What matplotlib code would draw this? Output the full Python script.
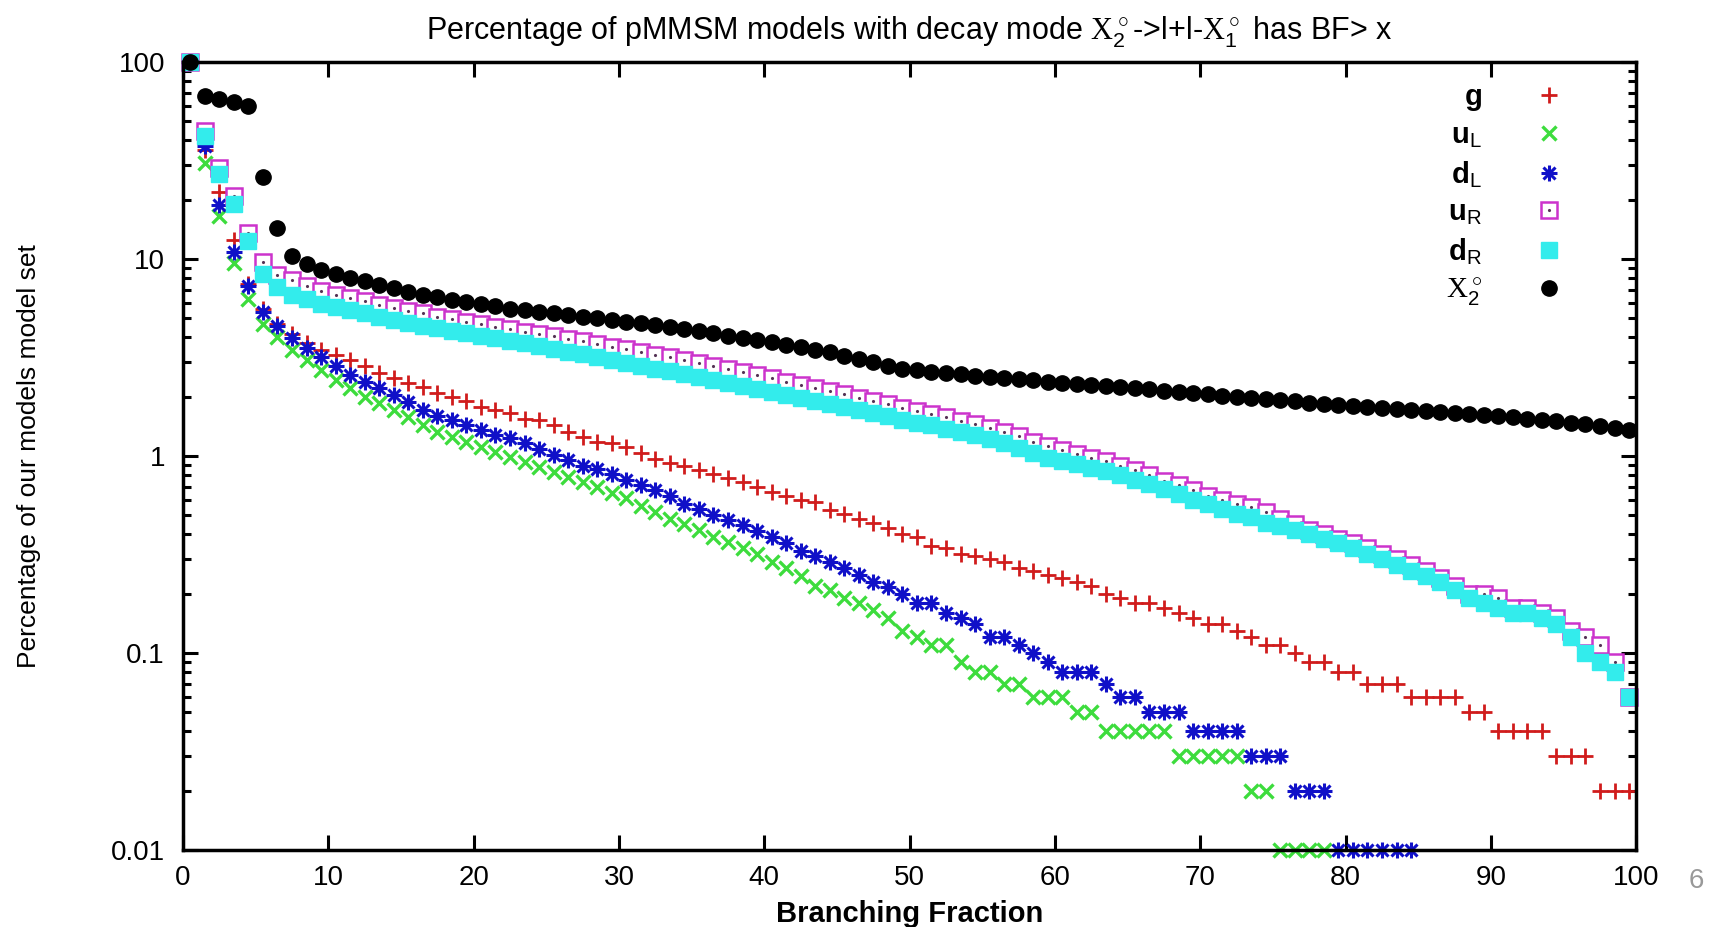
import numpy as np
import matplotlib
matplotlib.use("Agg")
import matplotlib.pyplot as plt
from matplotlib.legend_handler import HandlerTuple

plt.rcParams["font.family"] = ["Liberation Sans", "DejaVu Sans"]
plt.rcParams["mathtext.fontset"] = "custom"
plt.rcParams["mathtext.rm"] = "Liberation Sans"
plt.rcParams["mathtext.bf"] = "Liberation Sans:bold"
plt.rcParams["mathtext.sf"] = "Liberation Serif"

# bin centres of the branching fraction (percent)
bf = np.arange(0.5, 100, 1.0)

g = [100, 36, 22, 12.5, 7.5, 5.6, 4.7, 4.15, 3.74, 3.46,
     3.26, 3.07, 2.85, 2.63, 2.48, 2.34, 2.23, 2.08, 2.0, 1.91,
     1.78, 1.71, 1.65, 1.55, 1.52, 1.43, 1.33, 1.25, 1.18, 1.16,
     1.11, 1.04, 0.97, 0.925, 0.89, 0.85, 0.815, 0.77, 0.74, 0.70,
     0.66, 0.63, 0.60, 0.585, 0.53, 0.51, 0.48, 0.46, 0.43, 0.40,
     0.39, 0.35, 0.34, 0.32, 0.31, 0.30, 0.29, 0.27, 0.26, 0.25,
     0.24, 0.23, 0.22, 0.20, 0.19, 0.18, 0.18, 0.17, 0.16, 0.15,
     0.14, 0.14, 0.13, 0.12, 0.11, 0.11, 0.10, 0.09, 0.09, 0.08,
     0.08, 0.07, 0.07, 0.07, 0.06, 0.06, 0.06, 0.06, 0.05, 0.05,
     0.04, 0.04, 0.04, 0.04, 0.03, 0.03, 0.03, 0.02, 0.02, 0.02]

u_l = [100, 30.8, 16.5, 9.5, 6.3, 4.7, 4.04, 3.46, 3.07, 2.74,
       2.43, 2.21, 2.0, 1.85, 1.71, 1.58, 1.44, 1.33, 1.25, 1.18,
       1.11, 1.05, 0.99, 0.93, 0.88, 0.835, 0.78, 0.74, 0.70, 0.65,
       0.61, 0.56, 0.52, 0.48, 0.45, 0.42, 0.39, 0.365, 0.34, 0.32,
       0.29, 0.27, 0.245, 0.22, 0.21, 0.19, 0.18, 0.165, 0.15, 0.13,
       0.12, 0.11, 0.11, 0.09, 0.08, 0.08, 0.07, 0.07, 0.06, 0.06,
       0.06, 0.05, 0.05, 0.04, 0.04, 0.04, 0.04, 0.04, 0.03, 0.03,
       0.03, 0.03, 0.03, 0.02, 0.02, 0.01, 0.01, 0.01, 0.01]

d_l = [100, 37.4, 18.9, 10.9, 7.3, 5.4, 4.57, 3.96, 3.52, 3.17,
       2.87, 2.58, 2.38, 2.21, 2.04, 1.89, 1.71, 1.6, 1.52, 1.44,
       1.35, 1.28, 1.23, 1.16, 1.09, 1.01, 0.95, 0.89, 0.855, 0.815,
       0.76, 0.71, 0.675, 0.625, 0.57, 0.54, 0.50, 0.475, 0.445, 0.415,
       0.39, 0.36, 0.33, 0.31, 0.29, 0.27, 0.25, 0.23, 0.216, 0.20,
       0.18, 0.18, 0.16, 0.15, 0.14, 0.12, 0.12, 0.11, 0.10, 0.09,
       0.08, 0.08, 0.08, 0.07, 0.06, 0.06, 0.05, 0.05, 0.05, 0.04,
       0.04, 0.04, 0.04, 0.03, 0.03, 0.03, 0.02, 0.02, 0.02, 0.01,
       0.01, 0.01, 0.01, 0.01, 0.01]

u_r = [100, 44.6, 29, 20.8, 13.5, 9.7, 8.3, 7.8, 7.3, 6.9,
       6.6, 6.35, 6.1, 5.86, 5.65, 5.45, 5.3, 5.1, 4.97, 4.82,
       4.68, 4.54, 4.42, 4.28, 4.17, 4.05, 3.93, 3.82, 3.7, 3.58,
       3.48, 3.38, 3.27, 3.17, 3.07, 2.97, 2.87, 2.76, 2.66, 2.57,
       2.48, 2.39, 2.3, 2.22, 2.14, 2.06, 1.98, 1.9, 1.83, 1.76,
       1.69, 1.63, 1.57, 1.51, 1.45, 1.39, 1.33, 1.27, 1.18, 1.12,
       1.07, 1.03, 0.98, 0.94, 0.89, 0.85, 0.8, 0.75, 0.71, 0.67,
       0.63, 0.6, 0.57, 0.55, 0.52, 0.48, 0.45, 0.42, 0.4, 0.38,
       0.36, 0.34, 0.32, 0.3, 0.28, 0.26, 0.24, 0.22, 0.2, 0.2,
       0.19, 0.17, 0.17, 0.16, 0.15, 0.13, 0.12, 0.11, 0.09, 0.06]

d_r = [100, 42, 27, 19.1, 12.3, 8.4, 7.2, 6.6, 6.25, 5.95,
       5.7, 5.5, 5.3, 5.1, 4.92, 4.75, 4.6, 4.45, 4.32, 4.2,
       4.08, 3.96, 3.85, 3.73, 3.62, 3.5, 3.39, 3.28, 3.17, 3.06,
       2.96, 2.87, 2.78, 2.69, 2.6, 2.52, 2.43, 2.35, 2.27, 2.19,
       2.12, 2.04, 1.97, 1.9, 1.84, 1.77, 1.71, 1.65, 1.59, 1.53,
       1.48, 1.43, 1.38, 1.33, 1.28, 1.22, 1.16, 1.1, 1.04, 0.98,
       0.94, 0.91, 0.87, 0.84, 0.8, 0.76, 0.72, 0.68, 0.64, 0.6,
       0.57, 0.54, 0.51, 0.49, 0.46, 0.44, 0.42, 0.4, 0.38, 0.36,
       0.34, 0.32, 0.3, 0.28, 0.26, 0.245, 0.23, 0.21, 0.19, 0.18,
       0.17, 0.16, 0.16, 0.15, 0.14, 0.12, 0.10, 0.09, 0.08, 0.06]

x2 = [100, 67, 65, 63, 60, 26, 14.3, 10.4, 9.4, 8.8,
      8.4, 8.0, 7.7, 7.4, 7.1, 6.8, 6.6, 6.4, 6.2, 6.05,
      5.9, 5.75, 5.6, 5.5, 5.4, 5.3, 5.2, 5.1, 5.0, 4.9,
      4.8, 4.72, 4.62, 4.52, 4.42, 4.3, 4.2, 4.08, 3.98, 3.88,
      3.78, 3.68, 3.58, 3.47, 3.36, 3.24, 3.12, 3.0, 2.88, 2.78,
      2.72, 2.68, 2.64, 2.6, 2.56, 2.52, 2.48, 2.45, 2.42, 2.39,
      2.36, 2.33, 2.30, 2.27, 2.24, 2.21, 2.18, 2.15, 2.12, 2.09,
      2.06, 2.03, 2.0, 1.98, 1.95, 1.92, 1.9, 1.87, 1.84, 1.82,
      1.8, 1.78, 1.76, 1.73, 1.71, 1.69, 1.67, 1.65, 1.63, 1.61,
      1.59, 1.57, 1.55, 1.53, 1.5, 1.48, 1.45, 1.42, 1.39, 1.36]

x_ticks = list(range(0, 101, 10))
y_ticks = [0.01, 0.1, 1, 10, 100]
y_ticklabels = ["0.01", "0.1", "1", "10", "100"]

fig = plt.figure(figsize=(17.17, 9.27), dpi=100)
ax = fig.add_axes([0.1066, 0.083, 0.8464, 0.850])

kw = dict(linestyle="none", clip_on=False)
h_g, = ax.plot(bf[:len(g)], g, marker="+", ms=12, mew=2.0, color="#d01c1c", **kw)
h_ul, = ax.plot(bf[:len(u_l)], u_l, marker="x", ms=10, mew=2.4, color="#3ddc3d", **kw)
h_dl1, = ax.plot(bf[:len(d_l)], d_l, marker="+", ms=12, mew=2.2, color="#1010c8", **kw)
h_dl2, = ax.plot(bf[:len(d_l)], d_l, marker="x", ms=9, mew=2.2, color="#1010c8", **kw)
h_ur1, = ax.plot(bf[:len(u_r)], u_r, marker="s", ms=12, mfc="white", mec="#cc33cc", mew=1.8, **kw)
h_ur2, = ax.plot(bf[:len(u_r)], u_r, marker=".", ms=2.5, color="#553355", **kw)
h_dr, = ax.plot(bf[:len(d_r)], d_r, marker="s", ms=11, color="#33ecec", mec="#33ecec", **kw)
h_x2, = ax.plot(bf[:len(x2)], x2, marker="o", ms=11, color="black", **kw)

ax.set_yscale("log")
ax.set_xlim(0, 100)
ax.set_ylim(0.01, 100)
ax.set_xticks(x_ticks)
ax.set_yticks(y_ticks)
ax.set_yticklabels(y_ticklabels)
ax.tick_params(which="both", direction="in", top=True, right=True, width=2.2, labelsize=20)
ax.tick_params(which="major", length=11)
ax.tick_params(which="minor", length=6)
ax.tick_params(axis="x", pad=11)
ax.tick_params(axis="y", pad=13)
for s in ax.spines.values():
    s.set_linewidth(2.5)

ax.set_title(r"Percentage of pMMSM models with decay mode $\mathsf{X}_2^\circ$->l+l-$\mathsf{X}_1^\circ$ has BF> x",
             fontsize=22, pad=16)
ax.set_xlabel("Branching Fraction", fontsize=21, fontweight="bold")
ax.xaxis.set_label_coords(0.5, -0.064)
ax.set_ylabel("Percentage of our models model set", fontsize=19)
ax.yaxis.set_label_coords(-0.098, 0.5)

handles = [h_g, h_ul, (h_dl1, h_dl2), (h_ur1, h_ur2), h_dr, h_x2]
labels = [r"$\mathbf{g}$", r"$\mathbf{u}_\mathrm{L}$", r"$\mathbf{d}_\mathrm{L}$",
          r"$\mathbf{u}_\mathrm{R}$", r"$\mathbf{d}_\mathrm{R}$", r"$\mathsf{X}_2^\circ$"]
ax.legend(handles, labels, handler_map={tuple: HandlerTuple(ndivide=1)},
          loc="upper right", bbox_to_anchor=(0.972, 1.007), markerfirst=False,
          frameon=False, fontsize=21, handlelength=1.4, labelspacing=0.3,
          handletextpad=1.6)

fig.text(0.988, 0.05, "6", fontsize=20, color="#999999", ha="center", va="center")

plt.savefig("out.png", dpi=100)
